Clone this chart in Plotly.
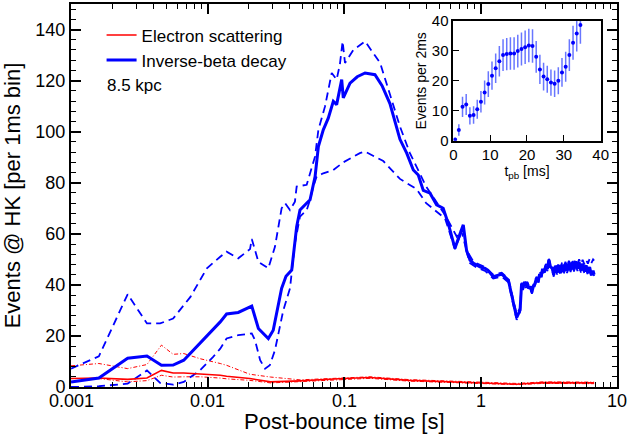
import math
import plotly.graph_objects as go

# ---------------- data ----------------
# Inverse-beta decay, central (solid blue)
t_ibd_early = [0.001, 0.0016, 0.0026, 0.0036, 0.0046, 0.0056, 0.0067, 0.0088, 0.0124, 0.0138,
               0.0168, 0.0211, 0.0236, 0.0279, 0.0303, 0.0349, 0.0376, 0.0414, 0.045, 0.0476,
               0.0533, 0.0564, 0.0614, 0.0649, 0.0705, 0.0767, 0.0835, 0.0883, 0.0962, 0.0988,
               0.1107, 0.125, 0.1426, 0.1686, 0.19, 0.217, 0.257, 0.288, 0.322, 0.35,
               0.381, 0.427, 0.477, 0.533, 0.58, 0.65, 0.708, 0.748, 0.79, 0.838,
               0.89, 0.938, 1.0, 1.08, 1.13, 1.24, 1.43, 1.6, 1.74, 1.84, 1.95]
ibd_mid_early = [2.0, 3.5, 11.3, 12.1, 8.5, 8.6, 10.5, 17.0, 25.5, 28.6,
                 29.2, 31.7, 22.9, 19.0, 22.2, 38.6, 43.4, 45.8, 62.8, 69.3,
                 72.0, 73.3, 82.4, 94.2, 100.7, 105.3, 111.9, 110.6, 120.4, 113.2,
                 119.0, 121.5, 123.0, 122.3, 118.0, 111.0, 97.0, 91.6, 85.0, 83.0,
                 77.0, 75.9, 71.3, 70.0, 64.1, 54.3, 60.0, 63.5, 53.6, 49.7,
                 48.4, 47.8, 47.0, 46.5, 45.8, 43.2, 44.2, 41.9, 33.4, 27.2, 30.1]

t_late = [2.0, 2.05, 2.1, 2.15, 2.2, 2.26, 2.32, 2.38, 2.44, 2.5, 2.57, 2.64, 2.71, 2.78, 2.85,
          2.93, 3.01, 3.09, 3.17, 3.26, 3.35, 3.44, 3.54, 3.64, 3.74, 3.85, 3.96, 4.07, 4.19,
          4.31, 4.44, 4.57, 4.7, 4.84, 4.98, 5.13, 5.28, 5.44, 5.6, 5.77, 5.94, 6.12, 6.3,
          6.49, 6.68, 6.8]
ibd_mid_late = [40.5, 38.8, 41.2, 39.6, 40.8, 38.5, 39.4, 37.2, 39.5, 40.3, 42.6, 41.0, 44.2, 43.0,
                46.3, 44.8, 47.5, 46.2, 49.8, 47.0, 46.5, 44.0, 47.5, 44.8, 47.8, 44.6, 48.0, 45.0,
                48.3, 45.5, 48.6, 45.8, 49.0, 46.0, 49.2, 46.3, 48.8, 45.6, 48.3, 45.2, 47.6, 44.6,
                47.0, 43.8, 45.6, 44.0]

# Inverse-beta decay, upper model (dashed blue)
t_ibd_up_early = [0.001, 0.0016, 0.0026, 0.0036, 0.0045, 0.0056, 0.0075, 0.0099, 0.0124, 0.0138,
                  0.0168, 0.0205, 0.0211, 0.0236, 0.0279, 0.0312, 0.0349, 0.037, 0.0402, 0.0437,
                  0.045, 0.0533, 0.0614, 0.0649, 0.0726, 0.0813, 0.0883, 0.0933, 0.0977, 0.1017,
                  0.117, 0.1426, 0.184, 0.217, 0.257, 0.304, 0.4, 0.55, 0.67, 0.72,
                  0.79, 0.89, 1.0, 1.08, 1.24, 1.43, 1.6, 1.74, 1.84, 1.95]
ibd_up_early = [7.2, 12.0, 36.3, 24.9, 24.9, 26.8, 35.3, 46.5, 51.0, 53.0,
                50.4, 54.0, 58.0, 49.0, 46.5, 54.9, 70.0, 72.0, 69.3, 72.6,
                78.5, 79.2, 90.3, 100.7, 109.9, 123.0, 120.4, 126.3, 135.4, 126.9,
                132.0, 135.4, 126.9, 115.0, 102.0, 91.6, 78.5, 67.4, 58.9, 61.5,
                53.6, 49.0, 47.8, 47.0, 44.0, 44.8, 42.5, 34.2, 28.5, 31.0]
ibd_up_late = [40.8, 39.8, 41.8, 40.5, 41.2, 39.5, 40.2, 38.5, 40.3, 41.2, 43.2, 42.2, 45.0, 44.0,
               47.0, 46.0, 48.2, 47.3, 50.2, 48.0, 47.5, 45.5, 48.2, 46.3, 48.5, 46.4, 48.8, 47.0,
               49.0, 47.4, 49.4, 47.8, 49.8, 48.0, 50.0, 48.3, 50.0, 48.2, 49.8, 48.0, 49.8, 48.3,
               50.2, 48.5, 50.0, 49.5]

# Inverse-beta decay, lower model (dashed blue)
t_ibd_lo_early = [0.001, 0.0016, 0.0026, 0.0036, 0.0045, 0.0056, 0.0067, 0.0088, 0.011, 0.0124,
                  0.0138, 0.0168, 0.0211, 0.0223, 0.0243, 0.0264, 0.0286, 0.0312, 0.0359, 0.0402,
                  0.0437, 0.0476, 0.0533, 0.0564, 0.0596, 0.063, 0.0705, 0.0835, 0.0988, 0.1306,
                  0.1426, 0.194, 0.257, 0.34, 0.4, 0.477, 0.55, 0.65, 0.708, 0.748,
                  0.79, 0.838, 0.938, 1.08, 1.24, 1.43, 1.6, 1.74, 1.84, 1.95]
ibd_lo_early = [0.0, 0.3, 1.3, 6.5, 1.6, 0.9, 2.0, 6.5, 11.8, 15.0,
                19.0, 20.3, 21.0, 18.3, 10.5, 7.2, 8.5, 14.4, 30.0, 38.6,
                56.3, 66.7, 69.3, 73.3, 78.5, 82.4, 83.7, 85.0, 88.0, 91.6,
                92.2, 88.5, 81.5, 77.5, 72.0, 68.7, 66.0, 54.0, 59.5, 62.5,
                53.0, 48.5, 46.8, 45.5, 42.5, 43.2, 41.0, 32.5, 26.3, 29.5]
ibd_lo_late = [39.3, 38.0, 40.2, 38.8, 39.8, 37.6, 38.5, 36.5, 38.6, 39.5, 41.8, 40.2, 43.4, 42.2,
               45.4, 44.0, 46.6, 45.4, 48.8, 46.2, 45.6, 43.2, 46.6, 44.0, 46.8, 43.8, 47.0, 44.2,
               47.3, 44.6, 47.6, 45.0, 48.0, 45.2, 48.0, 45.4, 47.8, 44.8, 47.2, 44.4, 46.6, 43.8,
               46.0, 43.2, 44.8, 43.5]

# Electron scattering (red)
t_es = [0.001, 0.0016, 0.0026, 0.0036, 0.0046, 0.0056, 0.0067, 0.0088, 0.0124, 0.0138,
        0.0204, 0.029, 0.0476, 0.099, 0.155, 0.30, 0.72, 1.84, 2.86, 6.8]
es_mid = [3.3, 3.5, 3.0, 3.5, 6.5, 5.5, 5.5, 5.2, 4.6, 4.2,
          3.3, 2.0, 2.4, 3.3, 3.7, 2.6, 2.0, 1.1, 1.7, 1.6]
es_up = [8.3, 9.2, 7.2, 8.8, 16.4, 12.8, 13.1, 11.1, 9.2, 8.5,
         5.0, 3.9, 2.8, 3.6, 4.0, 2.9, 2.3, 1.4, 2.0, 1.9]
es_lo = [2.0, 3.3, 2.0, 2.5, 4.6, 3.9, 4.0, 4.0, 3.5, 3.2,
         2.6, 1.6, 2.1, 3.0, 3.4, 2.3, 1.7, 0.9, 1.4, 1.3]

# Inset: events per bin in the first ms
inset_t = [0.5, 1.5, 2.5, 3.5, 4.5, 5.5, 6.5, 7.5, 8.5, 9.5, 10.5, 11.5, 12.5, 13.5, 14.5, 15.5,
           16.5, 17.5, 18.5, 19.5, 20.5, 21.5, 22.5, 23.5, 24.5, 25.5, 26.5, 27.5, 28.5, 29.5,
           30.5, 31.5, 32.5, 33.5, 34.5]
inset_v = [0.4, 3.6, 11.3, 12.1, 8.3, 8.6, 10.5, 13.0, 16.1, 18.9, 21.7, 24.2, 26.5, 28.6, 28.9,
           29.1, 29.1, 29.9, 30.6, 31.2, 31.8, 31.6, 28.0, 23.8, 21.4, 20.5, 19.4, 19.0, 20.0,
           22.8, 24.7, 28.6, 32.7, 35.8, 38.6]
inset_err = [0.6, 1.9, 3.4, 3.5, 2.9, 2.9, 3.2, 3.6, 4.0, 4.3, 4.7, 4.9, 5.1, 5.3, 5.4,
             5.4, 5.4, 5.5, 5.5, 5.6, 5.6, 5.6, 5.3, 4.9, 4.6, 4.5, 4.4, 4.4, 4.5,
             4.8, 5.0, 5.3, 5.7, 6.0, 6.2]

x_tickvals = [0.001, 0.01, 0.1, 1, 10]
x_ticktext = ["0.001", "0.01", "0.1", "1", "10"]

# ---------------- figure ----------------
BLUE = "#0000ff"
RED = "#ff0000"
FONT = "Liberation Sans, Arial, sans-serif"

fig = go.Figure()

# red: upper / lower (dash-dot)
fig.add_trace(go.Scatter(x=t_es, y=es_up, mode="lines", showlegend=False,
                         line=dict(color=RED, width=1, dash="4px,2px,1px,2px")))
fig.add_trace(go.Scatter(x=t_es, y=es_lo, mode="lines", showlegend=False,
                         line=dict(color=RED, width=1, dash="4px,2px,1px,2px")))

# blue dashed
fig.add_trace(go.Scatter(x=t_ibd_up_early + t_late, y=ibd_up_early + ibd_up_late, mode="lines",
                         showlegend=False, line=dict(color=BLUE, width=1.8, dash="8px,5px")))
fig.add_trace(go.Scatter(x=t_ibd_lo_early + t_late, y=ibd_lo_early + ibd_lo_late, mode="lines",
                         showlegend=False, line=dict(color=BLUE, width=1.8, dash="8px,5px")))

fig.add_trace(go.Scatter(x=t_es, y=es_mid, mode="lines", name="Electron scattering",
                         line=dict(color=RED, width=1.6)))
fig.add_trace(go.Scatter(x=t_ibd_early + t_late, y=ibd_mid_early + ibd_mid_late, mode="lines",
                         name="Inverse-beta decay", line=dict(color=BLUE, width=3)))

# inset
fig.add_trace(go.Scatter(x=inset_t, y=inset_v, mode="markers", xaxis="x2", yaxis="y2",
                         showlegend=False, cliponaxis=True,
                         marker=dict(color=BLUE, size=4),
                         error_y=dict(type="data", array=inset_err, visible=True,
                                      color="rgba(40,60,255,0.7)", thickness=1.5, width=0)))

minor_log = [k * 10 ** e for e in (-3, -2, -1, 0) for k in range(2, 10)]

# x tick labels placed through the (log) x axis scale: annotation x on a log axis is log10(value)
annotations = [dict(text=lab, x=math.log10(val), xref="x", y=0, yref="paper", yshift=-14,
                    xanchor="center", yanchor="middle", showarrow=False,
                    font=dict(size=18))
               for val, lab in zip(x_tickvals, x_ticktext)]
annotations.append(dict(text="Post-bounce time [s]", x=0.5, xref="paper", y=0, yref="paper",
                        yshift=-34, xanchor="center", yanchor="middle", showarrow=False,
                        font=dict(size=22)))
annotations.append(dict(text="8.5 kpc", xref="paper", yref="paper", x=0.0623, y=0.787,
                        xanchor="left", yanchor="middle", showarrow=False,
                        font=dict(size=17)))

fig.update_layout(
    width=629, height=436,
    margin=dict(l=71, r=12, t=4, b=49, autoexpand=False),
    plot_bgcolor="white", paper_bgcolor="white",
    font=dict(family=FONT, color="black"),
    showlegend=True,
    legend=dict(x=0.056, y=0.965, xanchor="left", yanchor="top",
                bgcolor="rgba(0,0,0,0)", font=dict(size=17), itemwidth=30,
                tracegroupgap=0),
    xaxis=dict(type="log", range=[-3, 1], domain=[0, 1], automargin=False,
               tickvals=x_tickvals, showticklabels=False,
               ticks="inside", ticklen=10, tickwidth=1.5, tickcolor="black",
               minor=dict(tickvals=minor_log, ticks="inside", ticklen=5, tickwidth=1.2,
                          tickcolor="black", showgrid=False),
               showline=True, linewidth=2, linecolor="black", mirror="allticks",
               showgrid=False, zeroline=False),
    yaxis=dict(range=[0, 150], domain=[0, 1], tick0=0, dtick=20, automargin=False,
               ticks="inside", ticklen=10, tickwidth=1.5, tickcolor="black",
               minor=dict(dtick=4, tick0=0, ticks="inside", ticklen=5, tickwidth=1.2,
                          tickcolor="black", showgrid=False),
               showline=True, linewidth=2, linecolor="black", mirror="allticks",
               showgrid=False, zeroline=False,
               tickfont=dict(size=18),
               title=dict(text="Events @ HK [per 1ms bin]", font=dict(size=22), standoff=9)),
    xaxis2=dict(domain=[0.7002, 0.9701], anchor="y2", range=[0, 40], tick0=0, dtick=10,
                automargin=False,
                ticks="inside", ticklen=6, tickwidth=1.2, tickcolor="black",
                showline=True, linewidth=1.5, linecolor="black", mirror=True,
                showgrid=False, zeroline=False, tickfont=dict(size=15),
                title=dict(text="t<sub>pb</sub> [ms]", font=dict(size=14), standoff=0)),
    yaxis2=dict(domain=[0.643, 0.956], anchor="x2", range=[0, 40], tick0=0, dtick=10,
                automargin=False,
                ticks="inside", ticklen=6, tickwidth=1.2, tickcolor="black",
                showline=True, linewidth=1.5, linecolor="black", mirror=True,
                showgrid=False, zeroline=False, tickfont=dict(size=15),
                title=dict(text="Events per 2ms", font=dict(size=14), standoff=2)),
    annotations=annotations,
)

fig.write_html("out.html")
